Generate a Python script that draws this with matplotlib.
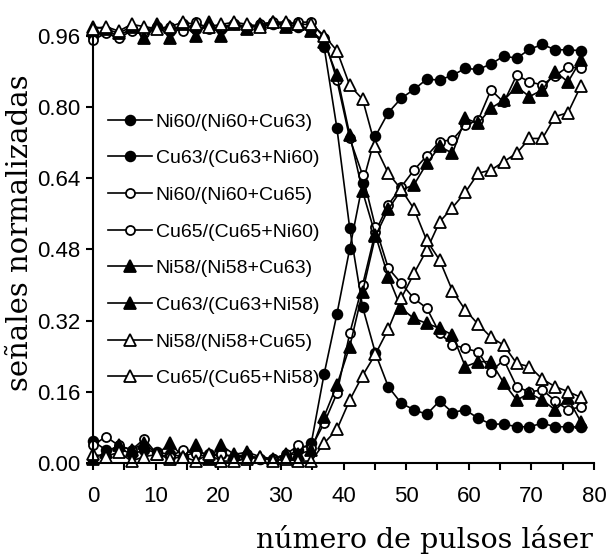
import matplotlib
matplotlib.use("Agg")
import matplotlib.pyplot as plt
from matplotlib.ticker import MultipleLocator

# pulse positions of the markers
x_pulsos = [0.0, 2.05, 4.1, 6.15, 8.2, 10.25, 12.3, 14.35, 16.4, 18.45, 20.5, 22.55,
            24.6, 26.65, 28.7, 30.75, 32.8, 34.85, 36.9, 38.95, 41.0, 43.05, 45.1,
            47.15, 49.2, 51.25, 53.3, 55.35, 57.4, 59.45, 61.5, 63.55, 65.6, 67.65,
            69.7, 71.75, 73.8, 75.85, 77.9]

ni60_cu63 = [0.05, 0.03, 0.035, 0.02, 0.03, 0.025, 0.02, 0.015, 0.025, 0.02, 0.02, 0.015,
             0.015, 0.01, 0.01, 0.015, 0.03,
             0.045, 0.20, 0.335, 0.482, 0.628, 0.734, 0.787, 0.819, 0.839, 0.862,
             0.860, 0.871, 0.886, 0.884, 0.896, 0.914, 0.909, 0.929, 0.940, 0.928, 0.928, 0.926]
cu63_ni60 = [0.96, 0.97, 0.96, 0.975, 0.97, 0.98, 0.97, 0.985, 0.975, 0.98, 0.975, 0.985,
             0.98, 0.98, 0.985, 0.985, 0.98,
             0.975, 0.935, 0.752, 0.527, 0.351, 0.247, 0.172, 0.135, 0.120, 0.110,
             0.140, 0.114, 0.120, 0.101, 0.088, 0.088, 0.082, 0.082, 0.090, 0.082, 0.082, 0.082]
ni60_cu65 = [0.04, 0.06, 0.04, 0.03, 0.055, 0.02, 0.015, 0.03, 0.02, 0.015, 0.02, 0.015,
             0.02, 0.01, 0.01, 0.02, 0.04,
             0.035, 0.09, 0.157, 0.292, 0.40, 0.52, 0.58, 0.62, 0.658, 0.69,
             0.722, 0.726, 0.759, 0.77, 0.838, 0.81, 0.871, 0.856, 0.849, 0.87, 0.890, 0.886]
cu65_ni60 = [0.95, 0.965, 0.955, 0.97, 0.965, 0.975, 0.98, 0.97, 0.99, 0.975, 0.98, 0.985,
             0.98, 0.985, 0.99, 0.985, 0.99,
             0.99, 0.955, 0.86, 0.729, 0.647, 0.53, 0.438, 0.404, 0.37, 0.348,
             0.292, 0.266, 0.258, 0.250, 0.206, 0.232, 0.172, 0.16, 0.165, 0.14, 0.120, 0.127]
ni58_cu63 = [0.01, 0.025, 0.04, 0.03, 0.045, 0.02, 0.045, 0.015, 0.04, 0.01, 0.04, 0.02,
             0.025, 0.015, 0.01, 0.02, 0.02,
             0.03, 0.105, 0.176, 0.262, 0.385, 0.51, 0.57, 0.613, 0.625, 0.673,
             0.711, 0.696, 0.774, 0.763, 0.797, 0.815, 0.845, 0.823, 0.838, 0.879, 0.856, 0.905]
cu63_ni58 = [0.98, 0.975, 0.965, 0.98, 0.955, 0.985, 0.955, 0.985, 0.96, 0.99, 0.96, 0.985,
             0.975, 0.985, 0.99, 0.98, 0.985,
             0.97, 0.946, 0.871, 0.737, 0.61, 0.512, 0.419, 0.348, 0.325, 0.314,
             0.303, 0.288, 0.217, 0.228, 0.228, 0.180, 0.142, 0.157, 0.142, 0.120, 0.146, 0.093]
ni58_cu65 = [0.02, 0.015, 0.025, 0.005, 0.015, 0.02, 0.01, 0.015, 0.005, 0.02, 0.005, 0.005,
             0.01, 0.015, 0.005, 0.01, 0.005,
             0.005, 0.045, 0.076, 0.142, 0.197, 0.245, 0.301, 0.370, 0.426, 0.479,
             0.542, 0.574, 0.608, 0.651, 0.658, 0.677, 0.696, 0.729, 0.729, 0.778, 0.787, 0.847]
cu65_ni58 = [0.975, 0.98, 0.97, 0.985, 0.98, 0.975, 0.98, 0.99, 0.985, 0.98, 0.985, 0.99,
             0.985, 0.98, 0.99, 0.99, 0.985,
             0.985, 0.96, 0.926, 0.848, 0.817, 0.711, 0.651, 0.615, 0.571, 0.50,
             0.456, 0.387, 0.344, 0.312, 0.283, 0.265, 0.224, 0.217, 0.189, 0.172, 0.161, 0.148]

series = [
    ("Ni60/(Ni60+Cu63)", ni60_cu63, "o", "black", 7),
    ("Cu63/(Cu63+Ni60)", cu63_ni60, "o", "black", 7),
    ("Ni60/(Ni60+Cu65)", ni60_cu65, "o", "white", 6.5),
    ("Cu65/(Cu65+Ni60)", cu65_ni60, "o", "white", 6.5),
    ("Ni58/(Ni58+Cu63)", ni58_cu63, "^", "black", 9),
    ("Cu63/(Cu63+Ni58)", cu63_ni58, "^", "black", 9),
    ("Ni58/(Ni58+Cu65)", ni58_cu65, "^", "white", 9),
    ("Cu65/(Cu65+Ni58)", cu65_ni58, "^", "white", 9),
]

sans = ["Liberation Sans", "DejaVu Sans"]
serif = ["DejaVu Serif"]

fig = plt.figure(figsize=(6.06, 5.6), dpi=100)
ax = fig.add_axes([93 / 606, 96.7 / 560, 501 / 606, 445.6 / 560])

for label, vals, mk, fc, ms in series:
    ax.plot(x_pulsos, vals, color="black", lw=1.2, marker=mk, markersize=ms,
            markerfacecolor=fc, markeredgecolor="black", markeredgewidth=1.3,
            label=label, clip_on=False)

ax.set_xlim(0, 80)
ax.set_ylim(0, 1.0)
ax.spines["top"].set_visible(False)
ax.spines["right"].set_visible(False)
ax.spines["left"].set_bounds(0, 0.96)
ax.spines["left"].set_linewidth(1.5)
ax.spines["bottom"].set_linewidth(1.5)

ax.set_yticks([0.0, 0.16, 0.32, 0.48, 0.64, 0.80, 0.96])
ax.set_yticklabels(["0.00", "0.16", "0.32", "0.48", "0.64", "0.80", "0.96"])
ax.xaxis.set_major_locator(MultipleLocator(10))
ax.xaxis.set_minor_locator(MultipleLocator(5))
ax.tick_params(axis="both", which="both", direction="out", length=5, width=1.5)
ax.tick_params(axis="x", pad=11)
ax.tick_params(axis="y", pad=4)
for t in ax.get_xticklabels() + ax.get_yticklabels():
    t.set_fontfamily(sans)
    t.set_fontsize(16)

leg = ax.legend(loc="upper left", bbox_to_anchor=(108 / 606, 1 - 113 / 560),
                bbox_transform=fig.transFigure, frameon=False, borderpad=0,
                borderaxespad=0, handlelength=2.25, handletextpad=0.2,
                labelspacing=0.98, prop={"family": sans, "size": 14})

fig.text(20 / 606, 1 - 233 / 560, "señales normalizadas", rotation=90,
         ha="center", va="center", fontsize=21, family=serif)
fig.text(424 / 606, 1 - 540 / 560, "número de pulsos láser",
         ha="center", va="center", fontsize=20.5, family=serif)

fig.savefig("out.png", dpi=100)
